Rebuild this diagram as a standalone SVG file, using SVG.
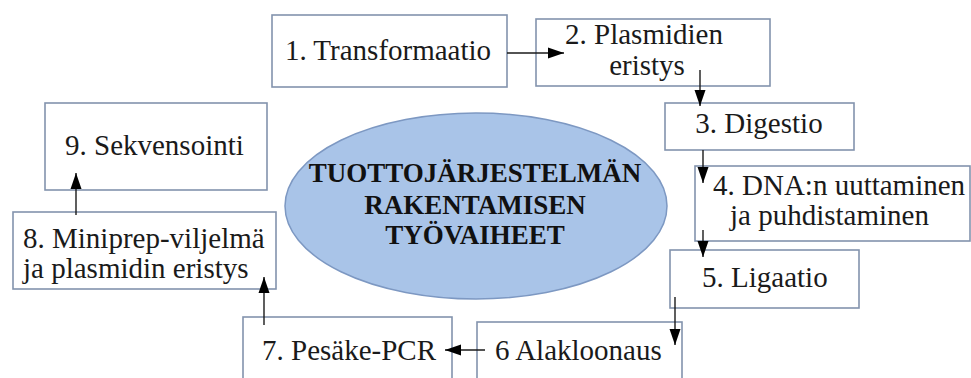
<svg xmlns="http://www.w3.org/2000/svg" width="971" height="378" viewBox="0 0 971 378">
<style>
.box{fill:#ffffff;stroke:#8393ad;stroke-width:1.6}
text{font-family:'Liberation Serif','DejaVu Serif',serif}
.t{font-size:29px;fill:#1a1a1a}
.title{font-size:27px;font-weight:bold;fill:#111111;text-anchor:middle}
.c{text-anchor:middle}
.conn line{stroke:#1a1a1a;stroke-width:1.4;marker-end:url(#ah)}
</style>
<defs>
<marker id="ah" markerWidth="16" markerHeight="12" refX="16" refY="6" orient="auto" markerUnits="userSpaceOnUse">
<path d="M0,0.5 L16,6 L0,11.5 z" fill="#000000"/>
</marker>
</defs>
<rect x="0" y="0" width="971" height="378" fill="#ffffff"/>
<g id="center">
<ellipse cx="476" cy="206" rx="191" ry="93" fill="#a9c4e8" stroke="#7d98c2" stroke-width="1.5"/>
<text class="title" x="475" y="182">TUOTTOJÄRJESTELMÄN</text>
<text class="title" x="475" y="214">RAKENTAMISEN</text>
<text class="title" x="475" y="244">TYÖVAIHEET</text>
</g>
<g id="n1">
<rect class="box" x="272" y="15" width="235" height="72"/>
<text class="t c" x="388" y="60">1. Transformaatio</text>
</g>
<g id="n2">
<rect class="box" x="536" y="19" width="234" height="67"/>
<text class="t c" x="644" y="44">2. Plasmidien</text>
<text class="t c" x="647" y="75">eristys</text>
</g>
<g id="n3">
<rect class="box" x="665" y="103" width="189" height="47"/>
<text class="t c" x="759" y="133">3. Digestio</text>
</g>
<g id="n4">
<rect class="box" x="695" y="166" width="275" height="75"/>
<text class="t" x="713" y="195">4. DNA:n uuttaminen</text>
<text class="t" x="730" y="225">ja puhdistaminen</text>
</g>
<g id="n5">
<rect class="box" x="670" y="250" width="189" height="58"/>
<text class="t" x="702" y="287">5. Ligaatio</text>
</g>
<g id="n6">
<rect class="box" x="477" y="322" width="205" height="70"/>
<text class="t" x="495" y="360">6 Alakloonaus</text>
</g>
<g id="n7">
<rect class="box" x="243" y="317" width="209" height="75"/>
<text class="t" x="262" y="360">7. Pesäke-PCR</text>
</g>
<g id="n8">
<rect class="box" x="13" y="212" width="263" height="77"/>
<text class="t" x="23" y="248">8. Miniprep-viljelmä</text>
<text class="t" x="23" y="278">ja plasmidin eristys</text>
</g>
<g id="n9">
<rect class="box" x="45" y="103" width="222" height="87"/>
<text class="t" x="65" y="155">9. Sekvensointi</text>
</g>
<g id="connectors" class="conn">
<line x1="507" y1="53" x2="564" y2="53"/>
<line x1="700" y1="70" x2="700" y2="106"/>
<line x1="703" y1="150" x2="703" y2="183"/>
<line x1="703" y1="230" x2="703" y2="257"/>
<line x1="675" y1="297" x2="675" y2="345"/>
<line x1="485" y1="350" x2="445" y2="350"/>
<line x1="264" y1="325" x2="264" y2="277"/>
<line x1="76" y1="215" x2="76" y2="173"/>
</g>
</svg>
